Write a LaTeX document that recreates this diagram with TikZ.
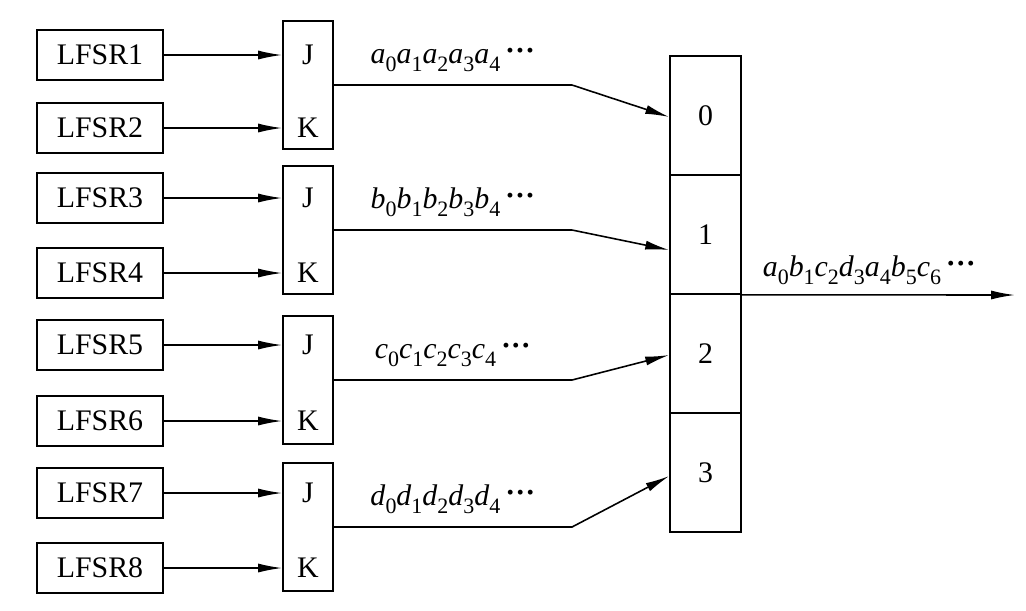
\documentclass[tikz,border=0pt]{standalone}
\usepackage{fontspec}
\setmainfont{Liberation Serif}
\usetikzlibrary{arrows.meta,positioning,calc}
\newcommand\sq[2]{\textit{#1}\raisebox{-0.26em}{\fontsize{12.5}{13}\selectfont #2}}
\newcommand\tdots{\,\raisebox{0.1em}{\bfseries ···}}
\newcommand\seqtxt[1]{\sq{#1}{0}\sq{#1}{1}\sq{#1}{2}\sq{#1}{3}\sq{#1}{4}\tdots}
\tikzset{
  lfsrbox/.style={
    draw, line width=0.9pt, inner sep=0pt,
    minimum width=2.52cm, minimum height=1cm
  },
  jkbox/.style={
    draw, line width=0.9pt, inner sep=0pt,
    minimum width=1cm, minimum height=2.56cm
  },
  regcell/.style={
    draw, line width=0.9pt, inner sep=0pt,
    minimum width=1.42cm, minimum height=2.38cm
  },
  feed/.style={-{Latex[length=0.48cm,width=0.18cm]}, line width=0.9pt},
  seqlabel/.style={anchor=base, inner sep=0pt, yshift=0.43cm}
}
\begin{document}
\begin{tikzpicture}[x=0.02cm, y=-0.02cm, font=\fontsize{17}{20}\selectfont]
\useasboundingbox (0,0) rectangle (1026,610);
% shift register cells
\foreach \n/\y in {0/115.5,1/234.5,2/353.5,3/472.5}
  \node[regcell] (c\n) at (705.5,\y) {\n};
% generators
\foreach \n/\y in {1/55,2/128,3/198,4/273,5/345,6/421,7/493,8/568}
  \node[lfsrbox] (lfsr\n) at (100,\y) {LFSR\n};
% JK flip-flops
\foreach \n/\y in {1/85,2/230,3/380,4/527}
  \node[jkbox] (jk\n) at (308,\y) {};
\coordinate (bend) at (572,0);
\coordinate (out) at (1015,295);
\foreach \n/\j/\k in {1/1/2,2/3/4,3/5/6,4/7/8}{
  \node (j\n) at (lfsr\j -| jk\n) {J};
  \node (k\n) at (lfsr\k -| jk\n) {K};
  \draw[feed] (lfsr\j.east) -- (lfsr\j.east -| jk\n.west);
  \draw[feed] (lfsr\k.east) -- (lfsr\k.east -| jk\n.west);
}
% sequences into the register
\foreach \n/\m/\s/\dy in {1/0/a/-0.03cm,2/1/b/-0.31cm,3/2/c/-0.03cm,4/3/d/-0.07cm}
  \draw[feed] (jk\n.east) -- node[seqlabel] {\seqtxt{\s}} (jk\n.east -| bend)
    -- ([yshift=\dy]c\m.west);
% output
\draw[feed] (c1.south east) -- node[seqlabel, pos=0.467, yshift=-0.06cm]
  {\sq{a}{0}\sq{b}{1}\sq{c}{2}\sq{d}{3}\sq{a}{4}\sq{b}{5}\sq{c}{6}\tdots} (out);
\end{tikzpicture}
\end{document}
